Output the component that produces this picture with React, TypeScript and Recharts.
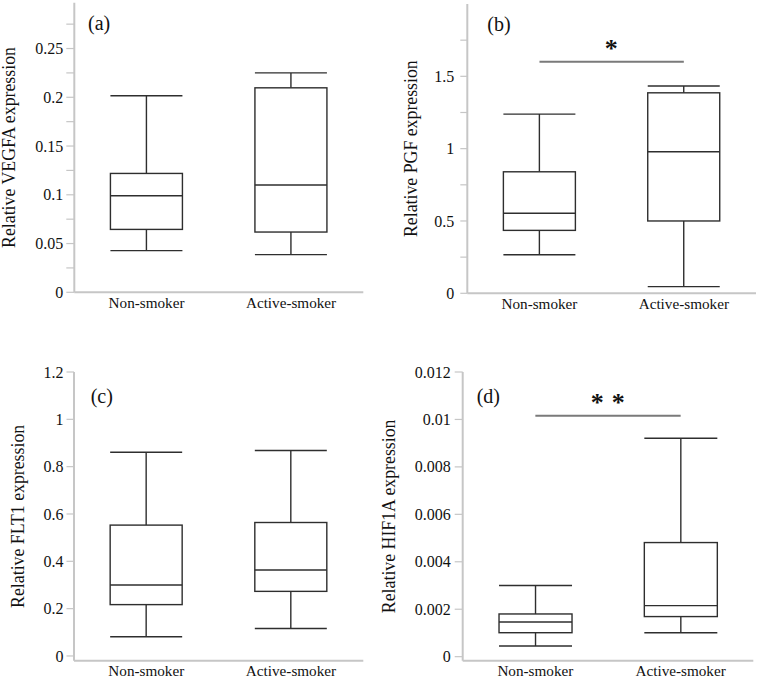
import React from 'react';
import { ComposedChart, Bar, XAxis, YAxis, ReferenceLine } from 'recharts';

const groups = ['Non-smoker', 'Active-smoker'];

// box statistics: [min, q1, median, q3, max]
const vegfaNon = [0.0427, 0.0645, 0.099, 0.1219, 0.2015];
const vegfaActive = [0.0386, 0.0618, 0.11, 0.2097, 0.225];
const pgfNon = [0.267, 0.435, 0.553, 0.84, 1.239];
const pgfActive = [0.046, 0.5, 0.979, 1.386, 1.433];
const flt1Non = [0.081, 0.217, 0.3, 0.553, 0.861];
const flt1Active = [0.116, 0.273, 0.363, 0.564, 0.868];
const hif1aNon = [0.00045, 0.00101, 0.00146, 0.0018, 0.003];
const hif1aActive = [0.00101, 0.00169, 0.00215, 0.00481, 0.00921];

const vegfaTicks = [0, 0.025, 0.05, 0.075, 0.1, 0.125, 0.15, 0.175, 0.2, 0.225, 0.25, 0.275];
const vegfaTickLabels = ['0', '', '0.05', '', '0.1', '', '0.15', '', '0.2', '', '0.25', ''];
const pgfTicks = [0, 0.25, 0.5, 0.75, 1, 1.25, 1.5, 1.75];
const pgfTickLabels = ['0', '', '0.5', '', '1', '', '1.5', ''];
const flt1Ticks = [0, 0.2, 0.4, 0.6, 0.8, 1, 1.2];
const flt1TickLabels = ['0', '0.2', '0.4', '0.6', '0.8', '1', '1.2'];
const hif1aTicks = [0, 0.002, 0.004, 0.006, 0.008, 0.01, 0.012];
const hif1aTickLabels = ['0', '0.002', '0.004', '0.006', '0.008', '0.01', '0.012'];

const pgfSig = 1.6;
const hif1aSig = 0.01016;

const FONT = '"Liberation Serif", "Times New Roman", serif';
const FRAME = '#c6c6c6';
const INK = '#2e2e2e';

function buildRows(non: number[], active: number[]) {
  return [
    { name: groups[0], range: [non[0], non[4]], stats: non },
    { name: groups[1], range: [active[0], active[4]], stats: active },
  ];
}

const BoxShape = (props: any) => {
  const { x, y, width, height, payload } = props;
  if (!payload) return null;
  const [mn, q1, med, q3, mx] = payload.stats as number[];
  const top = Math.min(y, y + height);
  const bottom = Math.max(y, y + height);
  const py = (v: number) => bottom - ((v - mn) / (mx - mn)) * (bottom - top);
  const cx = x + width / 2;
  const sw = 1.4;
  return (
    <g>
      <line x1={cx} x2={cx} y1={py(mx)} y2={py(q3)} stroke={INK} strokeWidth={sw} />
      <line x1={cx} x2={cx} y1={py(q1)} y2={py(mn)} stroke={INK} strokeWidth={sw} />
      <line x1={x} x2={x + width} y1={py(mx)} y2={py(mx)} stroke={INK} strokeWidth={sw} />
      <line x1={x} x2={x + width} y1={py(mn)} y2={py(mn)} stroke={INK} strokeWidth={sw} />
      <rect x={x} y={py(q3)} width={width} height={py(q1) - py(q3)} fill="#fff" stroke={INK} strokeWidth={sw} />
      <line x1={x} x2={x + width} y1={py(med)} y2={py(med)} stroke={INK} strokeWidth={sw} />
    </g>
  );
};

type PanelProps = {
  left: number;
  top: number;
  width: number;
  height: number;
  rows: any[];
  ticks: number[];
  tickLabels: string[];
  domain: [number, number];
  yTitle: string;
  margin: { top: number; right: number; bottom: number; left: number };
  yAxisWidth: number;
  xAxisHeight: number;
  tickSize: number;
  tickMargin: number;
  titleOffset: number;
  panelLabel: string;
  labelX: number;
  labelY: number;
  sig?: number;
  sigText?: string;
};

function Panel(p: PanelProps) {
  const renderTick = (props: any) => {
    const { x, y, payload } = props;
    const idx = p.ticks.indexOf(payload.value);
    const txt = idx >= 0 ? p.tickLabels[idx] : '';
    if (!txt) return <g />;
    return (
      <text x={x} y={y} dy="0.35em" textAnchor="end" fontSize={16} fontFamily={FONT} fill="#111">
        {txt}
      </text>
    );
  };
  return (
    <div style={{ position: 'absolute', left: p.left, top: p.top, width: p.width, height: p.height }}>
      <ComposedChart width={p.width} height={p.height} data={p.rows} margin={p.margin} barCategoryGap="25%">
        <XAxis
          dataKey="name"
          type="category"
          height={p.xAxisHeight}
          axisLine={{ stroke: FRAME, strokeWidth: 2 }}
          tickLine={false}
          tickSize={0}
          tickMargin={5}
          tick={{ fontSize: 15.2, fontFamily: FONT, fill: '#111' }}
          interval={0}
        />
        <XAxis
          xAxisId="top"
          dataKey="name"
          type="category"
          orientation="top"
          height={0}
          axisLine={{ stroke: FRAME, strokeWidth: 2 }}
          tickLine={false}
          tick={false}
        />
        <YAxis
          type="number"
          domain={p.domain}
          ticks={p.ticks}
          interval={0}
          width={p.yAxisWidth}
          axisLine={{ stroke: FRAME, strokeWidth: 2 }}
          tickLine={{ stroke: FRAME, strokeWidth: 1.2 }}
          tickSize={p.tickSize}
          tickMargin={p.tickMargin}
          tick={renderTick}
          allowDataOverflow
          label={{
            value: p.yTitle,
            angle: -90,
            position: 'insideLeft',
            offset: p.titleOffset,
            style: { textAnchor: 'middle', fontSize: 17.8, fontFamily: FONT, fill: '#111' },
          }}
        />
        <YAxis
          yAxisId="right"
          type="number"
          orientation="right"
          domain={p.domain}
          width={0}
          axisLine={{ stroke: FRAME, strokeWidth: 2 }}
          tickLine={false}
          tick={false}
        />
        <Bar dataKey="range" shape={BoxShape} isAnimationActive={false} />
        {p.sig !== undefined && (
          <ReferenceLine
            segment={[
              { x: groups[0], y: p.sig },
              { x: groups[1], y: p.sig },
            ]}
            stroke="#7a7a7a"
            strokeWidth={2}
            label={{
              value: p.sigText,
              position: 'top',
              offset: 5,
              style: { fontSize: 26, fontWeight: 'bold', fontFamily: FONT, fill: '#111', letterSpacing: '0.75px' },
            }}
          />
        )}
        <text x={p.labelX} y={p.labelY} fontSize={20} fontFamily={FONT} fill="#111">
          {p.panelLabel}
        </text>
      </ComposedChart>
    </div>
  );
}

export default function App() {
  return (
    <div style={{ position: 'absolute', left: 0, top: 0, width: 760, height: 678, background: '#fff', overflow: 'hidden' }}>
      <Panel
        left={0}
        top={0}
        width={380}
        height={330}
        rows={buildRows(vegfaNon, vegfaActive)}
        ticks={vegfaTicks}
        tickLabels={vegfaTickLabels}
        domain={[0, 0.297]}
        yTitle="Relative VEGFA expression"
        margin={{ top: 2.7, right: 16.7, bottom: 0, left: 0 }}
        yAxisWidth={74.3}
        xAxisHeight={37.7}
        tickSize={8}
        tickMargin={3}
        titleOffset={9}
        panelLabel="(a)"
        labelX={88}
        labelY={30}
      />
      <Panel
        left={380}
        top={0}
        width={380}
        height={330}
        rows={buildRows(pgfNon, pgfActive)}
        ticks={pgfTicks}
        tickLabels={pgfTickLabels}
        domain={[0, 2]}
        yTitle="Relative PGF expression"
        margin={{ top: 4, right: 4, bottom: 0, left: 0 }}
        yAxisWidth={87.3}
        xAxisHeight={36.7}
        tickSize={7}
        tickMargin={6}
        titleOffset={30.8}
        panelLabel="(b)"
        labelX={107.3}
        labelY={31}
        sig={pgfSig}
        sigText="*"
      />
      <Panel
        left={0}
        top={340}
        width={380}
        height={338}
        rows={buildRows(flt1Non, flt1Active)}
        ticks={flt1Ticks}
        tickLabels={flt1TickLabels}
        domain={[-0.02, 1.2]}
        yTitle="Relative FLT1 expression"
        margin={{ top: 32, right: 16.7, bottom: 0, left: 0 }}
        yAxisWidth={74}
        xAxisHeight={17.3}
        tickSize={7.5}
        tickMargin={3}
        titleOffset={17.5}
        panelLabel="(c)"
        labelX={90.7}
        labelY={63}
      />
      <Panel
        left={380}
        top={340}
        width={380}
        height={338}
        rows={buildRows(hif1aNon, hif1aActive)}
        ticks={hif1aTicks}
        tickLabels={hif1aTickLabels}
        domain={[-0.00017, 0.012]}
        yTitle="Relative HIF1A expression"
        margin={{ top: 32, right: 6.7, bottom: 0, left: 0 }}
        yAxisWidth={82.7}
        xAxisHeight={17.3}
        tickSize={8}
        tickMargin={4}
        titleOffset={9}
        panelLabel="(d)"
        labelX={96.7}
        labelY={63}
        sig={hif1aSig}
        sigText="* *"
      />
    </div>
  );
}
